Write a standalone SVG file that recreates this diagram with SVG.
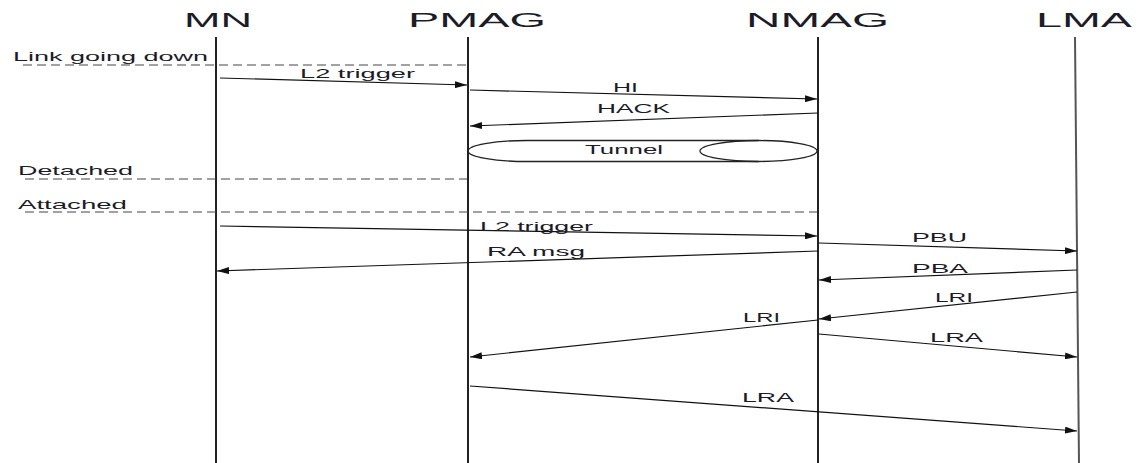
<svg xmlns="http://www.w3.org/2000/svg" width="1139" height="463" viewBox="0 0 1139 463">
<defs>
<style>
text{font-family:"Liberation Sans",Arial,sans-serif;fill:#1c1c28}
.hdr{font-size:21px}
.lbl{font-size:13px}
.life{stroke:#222;stroke-width:2;fill:none}
.msg{stroke:#111;stroke-width:1.2;fill:none;marker-end:url(#ah)}
.dash{stroke:#444;stroke-width:1;stroke-dasharray:9 5;fill:none}
.tun{stroke:#222;stroke-width:1.3;fill:none}
</style>
<marker id="ah" viewBox="0 0 12 7" refX="12" refY="3.5" markerWidth="12" markerHeight="7" markerUnits="userSpaceOnUse" orient="auto">
<path d="M0,0 L12,3.5 L0,7 z" fill="#111"/>
</marker>
</defs>
<rect width="1139" height="463" fill="#fff"/>

<g id="MN">
<text class="hdr" x="184" y="27" textLength="68" lengthAdjust="spacingAndGlyphs">MN</text>
<line class="life" x1="216" y1="37" x2="216" y2="463"/>
</g>
<g id="PMAG">
<text class="hdr" x="408" y="27" textLength="138" lengthAdjust="spacingAndGlyphs">PMAG</text>
<line class="life" x1="468" y1="37" x2="468" y2="463"/>
</g>
<g id="NMAG">
<text class="hdr" x="746" y="27" textLength="143" lengthAdjust="spacingAndGlyphs">NMAG</text>
<line class="life" x1="818" y1="37" x2="818" y2="463"/>
</g>
<g id="LMA">
<text class="hdr" x="1036" y="27" textLength="96" lengthAdjust="spacingAndGlyphs">LMA</text>
<line class="life" style="stroke:#555" x1="1075" y1="37" x2="1079" y2="463"/>
</g>

<g id="states">
<text class="lbl" x="13" y="61" textLength="195" lengthAdjust="spacingAndGlyphs">Link going down</text>
<line class="dash" x1="23" y1="65" x2="467" y2="65"/>
<text class="lbl" x="18" y="175" textLength="115" lengthAdjust="spacingAndGlyphs">Detached</text>
<line class="dash" x1="25" y1="179" x2="467" y2="179"/>
<text class="lbl" x="18" y="209" textLength="109" lengthAdjust="spacingAndGlyphs">Attached</text>
<line class="dash" x1="25" y1="212" x2="817" y2="212"/>
</g>

<g id="tunnel">
<path class="tun" d="M758.5,140.5 H526.5 A58.5,10.5 0 0 0 526.5,161.5 H758.5"/>
<ellipse class="tun" cx="758.5" cy="151" rx="58.5" ry="10.5"/>
<text class="lbl" x="585" y="154" textLength="78" lengthAdjust="spacingAndGlyphs">Tunnel</text>
</g>

<g id="connectors">
<line class="msg" x1="220" y1="78" x2="467" y2="85"/>
<line class="msg" x1="470" y1="90" x2="817" y2="99"/>
<line class="msg" x1="818" y1="113" x2="470" y2="126"/>
<line class="msg" x1="220" y1="226" x2="817" y2="236"/>
<line class="msg" x1="818" y1="251" x2="217" y2="271"/>
<line class="msg" x1="819" y1="243" x2="1077" y2="251"/>
<line class="msg" x1="1077" y1="270" x2="819" y2="280"/>
<line class="msg" x1="1077" y1="292" x2="819" y2="319"/>
<line class="msg" x1="818" y1="320" x2="470" y2="357"/>
<line class="msg" x1="819" y1="334" x2="1077" y2="357"/>
<line class="msg" x1="470" y1="386" x2="1077" y2="431"/>
</g>

<g id="labels">
<text class="lbl" x="300" y="78" textLength="115" lengthAdjust="spacingAndGlyphs">L2 trigger</text>
<text class="lbl" x="613" y="92" textLength="25" lengthAdjust="spacingAndGlyphs">HI</text>
<text class="lbl" x="597" y="113" textLength="73" lengthAdjust="spacingAndGlyphs">HACK</text>
<text class="lbl" x="480" y="231" textLength="113" lengthAdjust="spacingAndGlyphs">L2 trigger</text>
<text class="lbl" x="487" y="256" textLength="98" lengthAdjust="spacingAndGlyphs">RA msg</text>
<text class="lbl" x="912" y="242" textLength="55" lengthAdjust="spacingAndGlyphs">PBU</text>
<text class="lbl" x="912" y="273" textLength="56" lengthAdjust="spacingAndGlyphs">PBA</text>
<text class="lbl" x="935" y="302" textLength="38" lengthAdjust="spacingAndGlyphs">LRI</text>
<text class="lbl" x="930" y="342" textLength="53" lengthAdjust="spacingAndGlyphs">LRA</text>
<text class="lbl" x="743" y="322" textLength="37" lengthAdjust="spacingAndGlyphs">LRI</text>
<text class="lbl" x="742" y="402" textLength="52" lengthAdjust="spacingAndGlyphs">LRA</text>
</g>
</svg>
